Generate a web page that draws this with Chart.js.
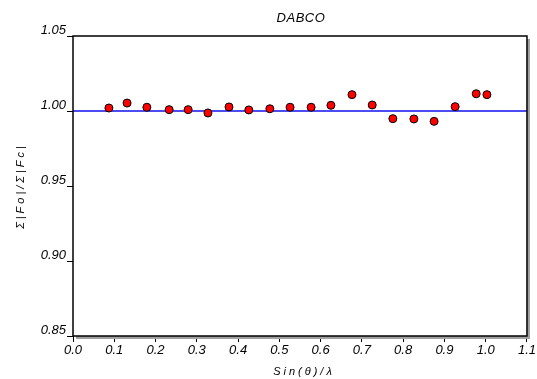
<!DOCTYPE html>
<html>
<head>
<meta charset="utf-8">
<script src="https://cdn.jsdelivr.net/npm/chart.js@4"></script>
<style>
  html, body { margin: 0; padding: 0; background: #fff; }
  #box { width: 537px; height: 379px; }
</style>
</head>
<body>
<div id="box"><canvas id="chart" width="537" height="379"></canvas></div>
<script>
// ---- Datos ----
const sinThetaLambda = [0.087, 0.131, 0.179, 0.233, 0.279, 0.327, 0.378, 0.426, 0.477, 0.526,
                        0.577, 0.625, 0.676, 0.725, 0.775, 0.826, 0.875, 0.926, 0.977, 1.003];
const ratioFoFc = [1.0020, 1.0053, 1.0025, 1.0009, 1.0009, 0.9987, 1.0027, 1.0007, 1.0015, 1.0025,
                   1.0025, 1.0038, 1.0109, 1.0040, 0.9949, 0.9947, 0.9931, 1.0029, 1.0115, 1.0109];
const refLineX = [0.0, 1.1];
const refLineY = [1.0, 1.0];
const xTicks = [0.0, 0.1, 0.2, 0.3, 0.4, 0.5, 0.6, 0.7, 0.8, 0.9, 1.0, 1.1];
const yTicks = [0.85, 0.90, 0.95, 1.00, 1.05];

const chartTitle = "DABCO";
const xTitle = "Sin(θ)/λ";
const yTitle = "Σ|Fo|/Σ|Fc|";

const FONT = "'Liberation Sans', Arial, sans-serif";

// marco con sombra + títulos
const framePlugin = {
  id: "frame",
  beforeDatasetsDraw(chart) {
    const { ctx, chartArea: a } = chart;
    ctx.save();
    ctx.fillStyle = "#a0a0a0";
    ctx.fillRect(a.right, a.top + 3, 3, a.bottom - a.top);
    ctx.fillRect(a.left + 3, a.bottom, a.right - a.left, 3);
    ctx.restore();
  },
  afterDatasetsDraw(chart) {
    const { ctx, chartArea: a } = chart;
    ctx.save();
    ctx.strokeStyle = "#000";
    ctx.lineWidth = 1.5;
    ctx.strokeRect(a.left, a.top, a.right - a.left, a.bottom - a.top);
    ctx.restore();
  },
  afterDraw(chart) {
    const { ctx, chartArea: a } = chart;
    const cx = (a.left + a.right) / 2;
    ctx.save();
    ctx.fillStyle = "#000";
    ctx.textAlign = "center";
    ctx.textBaseline = "middle";

    ctx.font = "italic 13px " + FONT;
    ctx.letterSpacing = "0.5px";
    ctx.fillText(chartTitle, cx + 1, 18);

    ctx.letterSpacing = "3px";
    ctx.font = "italic 11px " + FONT;
    ctx.fillText(xTitle, cx + 4, 372);

    ctx.translate(21, (a.top + a.bottom) / 2);
    ctx.rotate(-Math.PI / 2);
    ctx.fillText(yTitle, 0, 0);
    ctx.restore();
  }
};

const ctx = document.getElementById("chart").getContext("2d");
new Chart(ctx, {
  type: "scatter",
  data: {
    datasets: [
      {
        type: "line",
        data: refLineX.map((x, i) => ({ x, y: refLineY[i] })),
        borderColor: "#1010ee",
        borderWidth: 1.5,
        pointRadius: 0,
        fill: false,
        order: 2
      },
      {
        data: sinThetaLambda.map((x, i) => ({ x, y: ratioFoFc[i] })),
        backgroundColor: "#ff0000",
        borderColor: "#000",
        borderWidth: 1,
        pointRadius: 4,
        order: 1
      }
    ]
  },
  options: {
    responsive: false,
    animation: false,
    layout: { padding: { top: 36, right: 10, left: 0, bottom: 0 } },
    plugins: { legend: { display: false }, tooltip: { enabled: false }, title: { display: false } },
    scales: {
      x: {
        type: "linear",
        min: 0, max: 1.1,
        afterBuildTicks: s => { s.ticks = xTicks.map(v => ({ value: v })); },
        afterFit: s => { s.height = 43; },
        border: { display: false },
        grid: { drawOnChartArea: false, color: "#000", tickLength: 6, tickColor: "#000" },
        ticks: {
          color: "#000",
          padding: 1,
          font: { family: FONT, size: 13, style: "italic" },
          callback: v => v.toFixed(1),
          maxRotation: 0
        }
      },
      y: {
        type: "linear",
        min: 0.85, max: 1.05,
        afterBuildTicks: s => { s.ticks = yTicks.map(v => ({ value: v })); },
        afterFit: s => { s.width = 73; },
        border: { display: false },
        grid: { drawOnChartArea: false, color: "#000", tickLength: 6, tickColor: "#000" },
        ticks: {
          color: "#000",
          padding: 1,
          labelOffset: -6,
          font: { family: FONT, size: 13, style: "italic" },
          callback: v => v.toFixed(2)
        }
      }
    }
  },
  plugins: [framePlugin]
});
</script>
</body>
</html>
